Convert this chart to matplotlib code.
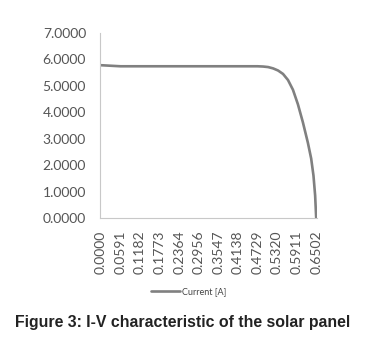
import matplotlib
matplotlib.use("Agg")
import matplotlib.pyplot as plt

voltage = [0.0000, 0.0591, 0.1182, 0.1773, 0.2364, 0.2956, 0.3547, 0.4138,
           0.4729, 0.4900, 0.5050, 0.5200, 0.5350, 0.5500, 0.5650, 0.5800,
           0.5950, 0.6100, 0.6250, 0.6350, 0.6420, 0.6470, 0.6502]
current = [5.78, 5.74, 5.74, 5.74, 5.74, 5.74, 5.74, 5.74,
           5.74, 5.73, 5.71, 5.66, 5.58, 5.45, 5.22, 4.85,
           4.30, 3.62, 2.85, 2.25, 1.60, 0.85, 0.00]

tick_vals = [0.0000, 0.0591, 0.1182, 0.1773, 0.2364, 0.2956, 0.3547,
             0.4138, 0.4729, 0.5320, 0.5911, 0.6502]
tick_labels = ["0.0000", "0.0591", "0.1182", "0.1773", "0.2364", "0.2956",
               "0.3547", "0.4138", "0.4729", "0.5320", "0.5911", "0.6502"]
y_ticks = [0, 1, 2, 3, 4, 5, 6, 7]

fig = plt.figure(figsize=(3.66, 3.40), dpi=100)
ax = fig.add_axes([0.273, 0.359, 0.593, 0.544])

ax.plot(voltage, current, color="#808080", linewidth=1.9,
        solid_capstyle="round", label="Current [A]")

ax.set_xlim(-0.003, 0.6525)
ax.set_ylim(0, 7)
ax.set_xticks(tick_vals)
ax.set_xticklabels(tick_labels, rotation=90, fontsize=10, color="#555555",
                   family="Lato")
ax.set_yticks(y_ticks)
ax.set_yticklabels([f"{v:.4f}" for v in y_ticks], fontsize=10,
                   color="#555555", family="Lato")
ax.tick_params(length=0, pad=10)
ax.tick_params(axis="x", pad=9)

for s in ["top", "right"]:
    ax.spines[s].set_visible(False)
for s in ["left", "bottom"]:
    ax.spines[s].set_color("#c8c8c8")
    ax.spines[s].set_linewidth(0.8)

leg = fig.legend(loc="center", bbox_to_anchor=(0.515, 0.143), frameon=False,
                 prop={"family": "Lato", "size": 6.5}, handlelength=3.2,
                 handletextpad=0.2)
for t in leg.get_texts():
    t.set_color("#444444")

fig.text(0.5, 0.05, "Figure 3: I-V characteristic of the solar panel",
         ha="center", va="center", fontsize=11.4, fontweight="bold",
         family="Liberation Sans", color="#222222")

fig.savefig("out.png", dpi=100)
